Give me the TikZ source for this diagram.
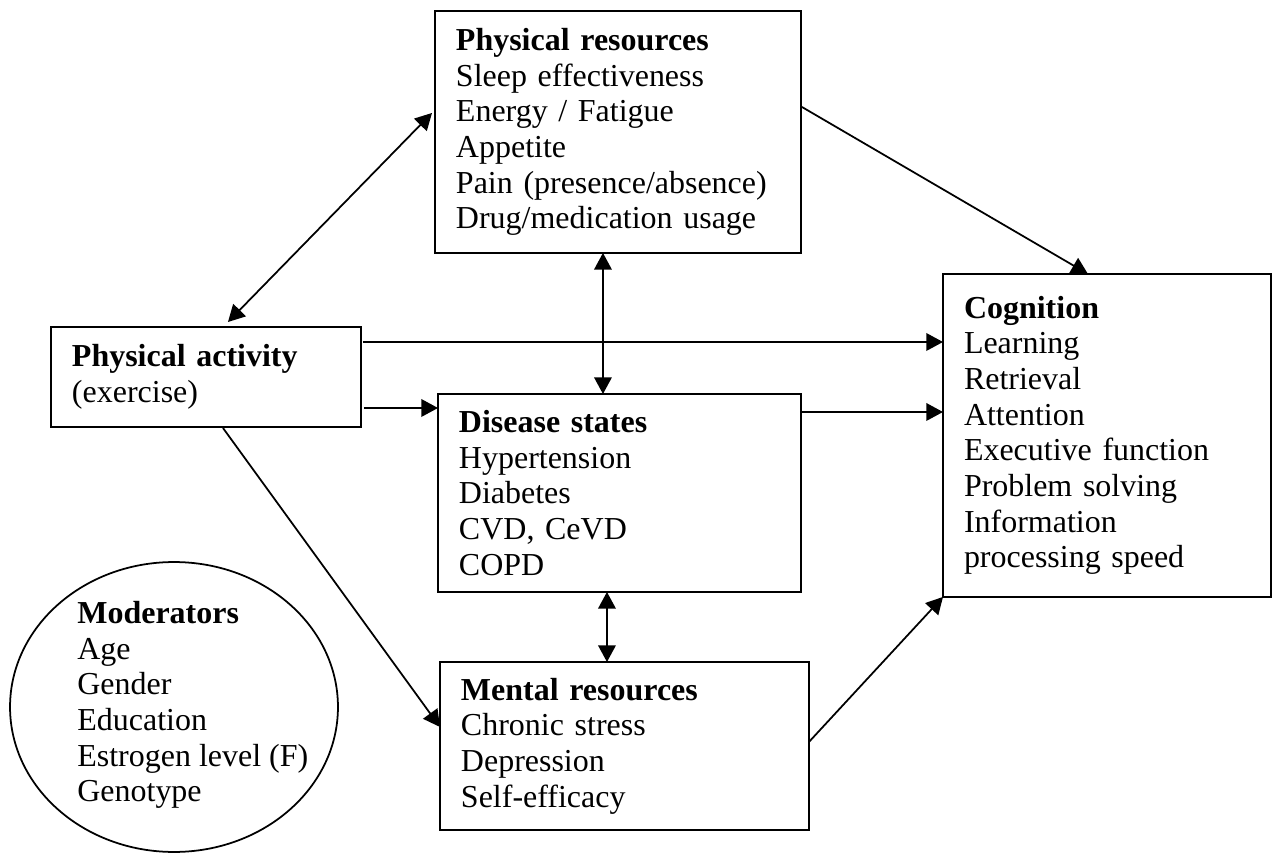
\documentclass[tikz,border=0pt]{standalone}
\usepackage{fontspec}
\setmainfont{Liberation Serif}
\usetikzlibrary{arrows.meta,calc,shapes.geometric}
\begin{document}
\begin{tikzpicture}[x=0.02cm,y=-0.02cm,
 box/.style={draw,line width=1.1pt,anchor=north west,align=left,inner xsep=0.42cm,inner ysep=0pt,outer sep=0pt,font=\fontsize{18.2pt}{20.3pt}\selectfont},
 arr/.style={line width=1pt,-{Triangle[length=9.5pt,width=10pt]}},
 dbl/.style={line width=1pt,{Triangle[length=9.5pt,width=10pt]}-{Triangle[length=9.5pt,width=10pt]}}]
 \useasboundingbox (0,0) rectangle (1272,855);
 \node (resources) [box,text width=6.48cm,minimum width=7.32cm,minimum height=4.84cm] at (435,11) {\textbf{Physical resources}\\Sleep effectiveness\\Energy / Fatigue\\Appetite\\Pain (presence/absence)\\Drug/medication usage};
 \node (cognition) [box,text width=5.72cm,minimum width=6.56cm,minimum height=6.46cm] at (943,274) {\textbf{Cognition}\\Learning\\Retrieval\\Attention\\Executive function\\Problem solving\\Information\\processing speed};
 \node (activity) [box,text width=5.36cm,minimum width=6.2cm,minimum height=2cm] at (51,327) {\textbf{Physical activity}\\(exercise)};
 \node (disease) [box,text width=6.42cm,minimum width=7.26cm,minimum height=3.96cm] at (438,394) {\textbf{Disease states}\\Hypertension\\Diabetes\\CVD, CeVD\\COPD};
 \node (mental) [box,text width=6.54cm,minimum width=7.38cm,minimum height=3.36cm] at (440,662) {\textbf{Mental resources}\\Chronic stress\\Depression\\Self-efficacy};
 \node (moderators) [draw,ellipse,line width=1pt,minimum width=6.56cm,minimum height=5.8cm,inner sep=0pt] at (174,707) {};
 \node (modlist) [anchor=north west,align=left,inner sep=0pt,font=\fontsize{18.2pt}{20.3pt}\selectfont] at (77,601) {\textbf{Moderators}\\Age\\Gender\\Education\\Estrogen level (F)\\Genotype};
 \coordinate (pa1) at ($(activity.east)+(2,-35)$);
 \coordinate (pa2) at ($(activity.east)+(3,31)$);
 \coordinate (ds1) at ($(disease.east)+(0,-81)$);
 \draw[dbl] ($(activity.north)+(22,-5)$) -- ($(resources.west)+(-3,-19)$);
 \draw[arr] ($(resources.east)+(1,-25)$) -- ($(cognition.north)+(-19,0)$);
 \draw[dbl] ($(resources.south)+(-15,0)$) -- ($(disease.north)+(-16.5,0)$);
 \draw[arr] (pa1) -- (pa1 -| cognition.west);
 \draw[arr] (pa2) -- (pa2 -| disease.west);
 \draw[arr] (ds1) -- (ds1 -| cognition.west);
 \draw[arr] ($(activity.south)+(17,1)$) -- ($(mental.west)+(0,-19)$);
 \draw[dbl] ($(disease.south)+(-12.5,0)$) -- ($(mental.north)+(-17.5,0)$);
 \draw[arr] ($(mental.east)+(0,-4)$) -- (cognition.south west);
\end{tikzpicture}
\end{document}
